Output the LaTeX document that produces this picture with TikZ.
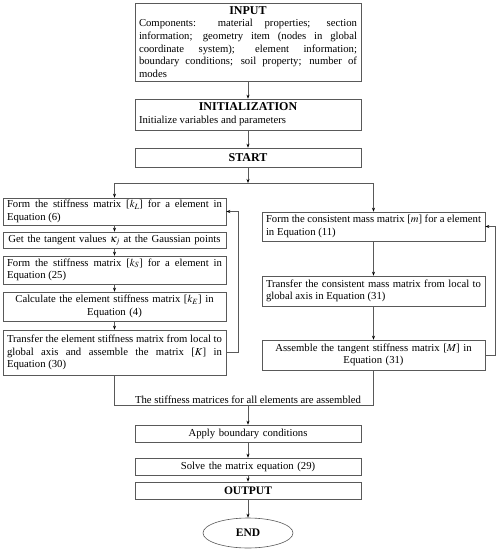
\documentclass[tikz,border=0pt]{standalone}
\usepackage{mathptmx}
\usepackage{fontspec}
\setmainfont{Liberation Serif}
\usetikzlibrary{arrows.meta,shapes.geometric}

\newcommand{\flowfont}{\fontsize{10.7}{12.7}\selectfont}
\newcommand{\flowhead}[1]{{\centering\fontsize{12}{14.5}\selectfont\bfseries #1\par}}

\tikzset{
  > = {Stealth[length=4pt, width=3pt, color=black]},
  flow/.style = {draw=black!65, line width=0.6pt},
  box/.style = {flow, rectangle, inner xsep=4pt, inner ysep=1pt, font=\flowfont, align=justify},
  mid box/.style = {box, text width=218pt},
  side box/.style = {box, text width=215pt},
}

\begin{document}
\begin{tikzpicture}[x=1pt, y=-1pt]
  \useasboundingbox (0,0) rectangle (498,550);

  %% define coordinates
  \coordinate (split) at (248,183);
  \coordinate (splitL) at (114.5,183);
  \coordinate (splitR) at (373.5,183);
  \coordinate (merge) at (248,405);

  % draw main boxes
  \node[mid box, minimum height=78pt] (input) at (248,42) {\flowhead{INPUT}Components: material properties; section\linebreak information; geometry item (nodes in global\linebreak coordinate system); element information;\linebreak boundary conditions; soil property; number of\linebreak modes};
  \node[mid box, minimum height=31pt] (init) at (248,114.5) {\flowhead{INITIALIZATION}Initialize variables and parameters};
  \node[mid box, minimum height=19pt] (start) at (248,157.5) {\flowhead{START}};

  % draw stiffness column
  \node[side box, minimum height=27pt] (formKL) at (114.5,211.5) {Form the stiffness matrix [$k_L$] for a element in\linebreak Equation (6)};
  \node[side box, align=center, minimum height=16pt] (tangent) at (114.5,240) {Get the tangent values $\kappa_j$ at the Gaussian points};
  \node[side box, minimum height=28pt] (formKS) at (114.5,270) {Form the stiffness matrix [$k_S$] for a element in\linebreak Equation (25)};
  \node[side box, align=center, minimum height=29pt] (calcKE) at (114.5,306.5) {Calculate the element stiffness matrix [$k_E$] in\\ Equation (4)};
  \node[side box, minimum height=45pt] (transK) at (114.5,352.5) {Transfer the element stiffness matrix from local to\linebreak global axis and assemble the matrix [$K$] in\linebreak Equation (30)};

  % draw mass column
  \node[side box, minimum height=29pt] (formM) at (373.5,226.5) {Form the consistent mass matrix [$m$] for a element\linebreak in Equation (11)};
  \node[side box, minimum height=30pt] (transM) at (373.5,291) {Transfer the consistent mass matrix from local to\linebreak global axis in Equation (31)};
  \node[side box, align=center, minimum height=30pt] (assemM) at (373.5,355) {Assemble the tangent stiffness matrix [$M$] in\\ Equation (31)};

  % draw solution boxes
  \node[above, inner sep=1.5pt, font=\flowfont] (mergetext) at (merge) {The stiffness matrices for all elements are assembled};
  \node[mid box, align=center, minimum height=17pt] (bc) at (248,433.5) {Apply boundary conditions};
  \node[mid box, align=center, minimum height=17pt] (solve) at (248,466.5) {Solve the matrix equation (29)};
  \node[mid box, align=center, minimum height=17pt] (output) at (248,490.5) {\fontsize{11.5}{13}\selectfont\bfseries OUTPUT};
  \node[flow, ellipse, minimum width=90pt, minimum height=30pt, font=\fontsize{11.5}{13}\selectfont\bfseries] (end) at (248,533) {END};

  % draw main flow
  \draw[flow, ->] (input) -- (init);
  \draw[flow, ->] (init) -- (start);
  \draw[flow, ->] (start) -- (split);
  \draw[flow] (splitL) -- (splitR);
  \draw[flow, ->] (splitL) -- (formKL);
  \draw[flow, ->] (splitR) -- (formM);

  % draw stiffness steps
  \draw[flow, ->] (formKL) -- (tangent);
  \draw[flow, ->] (tangent) -- (formKS);
  \draw[flow, ->] (formKS) -- (calcKE);
  \draw[flow, ->] (calcKE) -- (transK);
  \draw[flow, ->] (transK.east) -- ++(12,0) |- (formKL.east);

  % draw mass steps
  \draw[flow, ->] (formM) -- (transM);
  \draw[flow, ->] (transM) -- (assemM);
  \draw[flow, ->] (assemM.east) -- ++(10,0) |- (formM.east);

  % draw merge and solution
  \draw[flow] (transK) -- (transK |- merge) -- (assemM |- merge) -- (assemM);
  \draw[flow, ->] (merge) -- (bc);
  \draw[flow, ->] (bc) -- (solve);
  \draw[flow, ->] (solve) -- (output);
  \draw[flow, ->] (output) -- (end);
\end{tikzpicture}
\end{document}
